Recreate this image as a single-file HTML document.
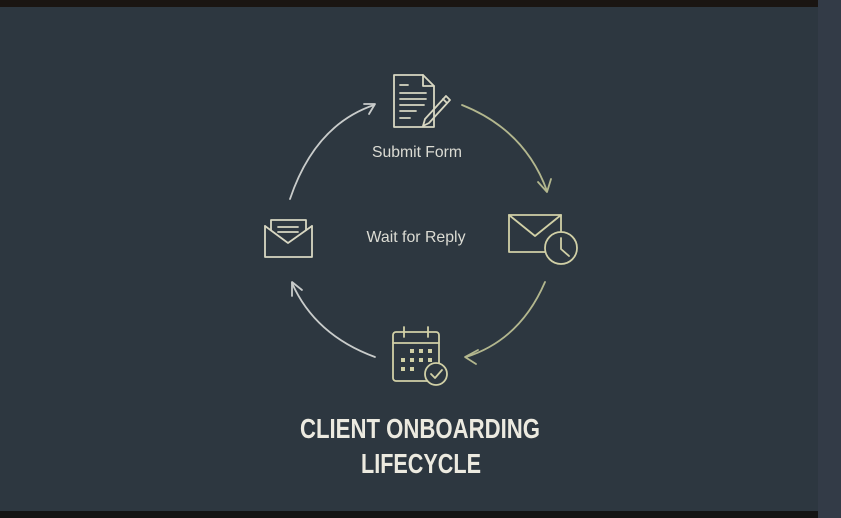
<!DOCTYPE html>
<html><head><style>
html,body{margin:0;padding:0;}
body{width:841px;height:518px;background:#2d3740;position:relative;overflow:hidden;font-family:"Liberation Sans",sans-serif;}
</style></head><body>
<svg width="841" height="518" viewBox="0 0 841 518" style="position:absolute;left:0;top:0">
<rect x="0" y="0" width="841" height="518" fill="#2d3740"/>
<rect x="818" y="0" width="23" height="518" fill="#333b47"/>
<rect x="0" y="0" width="818" height="7" fill="#1a1512"/>
<rect x="0" y="511" width="818" height="7" fill="#141414"/>
<g fill="none" stroke-width="1.8" stroke-linecap="round" stroke-linejoin="round">
<path d="M462,105 Q525,130 547,191" stroke="#b3b78e"/>
<path d="M538,182 L547,192 L551,179" stroke="#b3b78e"/>
<path d="M545,282 Q520,340 466,357" stroke="#b3b78e"/>
<path d="M478,350 L465,357 L476,364" stroke="#b3b78e"/>
<path d="M375,357 Q315,335 292,283" stroke="#c9cccb"/>
<path d="M292,296 L292,282 L302,290" stroke="#c9cccb"/>
<path d="M290,199 Q315,125 374,105" stroke="#c9cccb"/>
<path d="M364,104 L375,104 L369,114" stroke="#c9cccb"/>
<g stroke="#d8d7c2">
<path d="M394,75 L423,75 L434,86 L434,127 L394,127 Z"/>
<path d="M423,75 L423,86 L434,86"/>
<path d="M400,85 L408,85 M400,93 L426,93 M400,99 L426,99 M400,105 L424,105 M400,111 L416,111 M400,118 L410,118"/>
<path d="M446,96 L450,100 L429,123 L423,126 L425,119 Z"/>
<path d="M443,99 L447,103"/>
</g>
<g stroke="#d1d0a6">
<path d="M509,215 L561,215 L561,233 M509,215 L509,252 L545,252"/>
<path d="M509,215 L535,236 L561,215"/>
<circle cx="561" cy="248" r="16" fill="#2d3740"/>
<path d="M561,238 L561,249 L569,256"/>
</g>
<g stroke="#d1d0a6">
<rect x="393" y="332" width="46" height="49" rx="3"/>
<path d="M393,343 L439,343 M404,327 L404,337 M428,327 L428,337"/>
<circle cx="436" cy="374" r="11" fill="#2d3740"/>
<path d="M431,374 L435,378 L442,370"/>
</g>
<g fill="#d1d0a6">
<rect x="410" y="349" width="4" height="4"/><rect x="419" y="349" width="4" height="4"/><rect x="428" y="349" width="4" height="4"/>
<rect x="401" y="358" width="4" height="4"/><rect x="410" y="358" width="4" height="4"/><rect x="419" y="358" width="4" height="4"/><rect x="428" y="358" width="4" height="4"/>
<rect x="401" y="367" width="4" height="4"/><rect x="410" y="367" width="4" height="4"/>
</g>
<g stroke="#d8d7c2">
<path d="M265,226 L265,257 L312,257 L312,226"/>
<path d="M265,226 L288,243 L312,226"/>
<path d="M271,230 L271,220 L306,220 L306,230"/>
<path d="M278,227 L298,227 M278,232 L298,232"/>
</g>
</g>
<g font-family="'Liberation Sans Narrow','Liberation Sans',sans-serif" text-anchor="middle">
<text x="417" y="157" font-size="16" fill="#dcdcd4" textLength="90" lengthAdjust="spacingAndGlyphs">Submit Form</text>
<text x="416" y="242" font-size="16" fill="#dcdcd4" textLength="99" lengthAdjust="spacingAndGlyphs">Wait for Reply</text>
<text x="420" y="438" font-size="28" font-weight="bold" fill="#eceae0" textLength="240" lengthAdjust="spacingAndGlyphs">CLIENT ONBOARDING</text>
<text x="421" y="473" font-size="28" font-weight="bold" fill="#eceae0" textLength="120" lengthAdjust="spacingAndGlyphs">LIFECYCLE</text>
</g>
</svg>
</body></html>
